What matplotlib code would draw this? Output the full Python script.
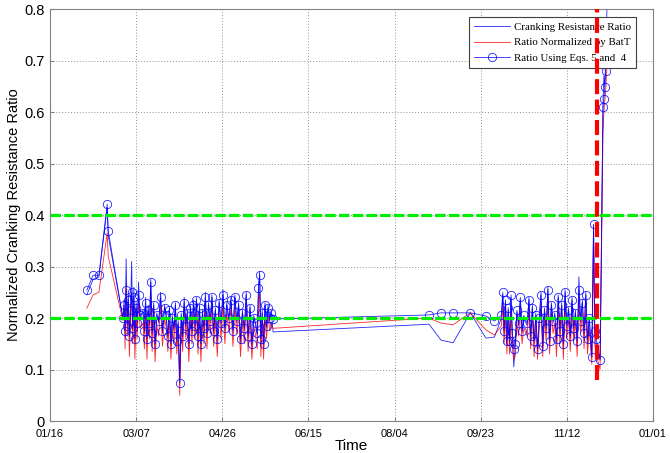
import datetime as dt
import numpy as np
import matplotlib
matplotlib.use("Agg")
from matplotlib import pyplot as plt
import matplotlib.dates as mdates

# day offsets from 01/16 and the three ratio series
days = [21.4, 25.0, 28.4, 33.2, 33.8,
        42.3, 43.0, 43.6, 44.2, 44.9, 45.5, 46.1, 46.8, 47.4, 48.0, 48.7, 49.3, 50.0, 50.6, 51.4, 52.3,
        54.0, 54.8, 55.5, 56.3, 57.0, 57.8, 58.5, 59.3, 60.2, 61.0, 62.0, 63.1, 64.2, 65.3, 66.5,
        67.5, 68.4, 69.3, 70.2, 71.0, 71.9, 72.8, 73.6, 74.4, 75.3, 76.2, 77.0, 77.9, 78.8, 79.7, 80.6, 81.5, 82.4, 83.3,
        84.2, 85.0, 85.9, 86.8, 87.6, 88.5, 89.4, 90.2, 91.1, 92.0, 93.0, 94.0, 95.0, 96.0, 97.1, 98.2, 99.3, 100.4, 101.5, 102.6, 103.8, 105.0,
        106.2, 107.3, 108.4, 109.5, 110.6, 111.7, 112.8, 113.9, 115.0, 116.1, 117.2, 118.3, 119.4,
        120.3, 121.0, 121.7, 122.4, 123.2, 124.0, 124.8, 125.7, 126.6, 127.5, 128.4, 129.5,
        220.0, 227.0, 234.0, 244.0, 253.0, 258.0,
        262.0, 262.8, 263.6, 264.4, 265.2, 266.0, 266.8, 267.6, 268.4, 269.2, 270.0, 271.0, 272.0, 273.0, 274.0, 275.0,
        277.0, 278.0, 279.0, 280.0, 281.0, 282.0, 283.0, 284.0, 285.0, 286.0, 287.0, 288.0, 289.0, 290.0, 291.0, 292.0,
        293.0, 294.0, 295.0, 296.0, 297.0, 298.0, 299.0, 300.0, 301.0, 302.0, 303.0, 304.0, 305.0, 306.0, 307.0, 308.0, 309.0, 310.0, 311.0, 312.0, 313.0,
        314.5, 315.5, 316.2, 317.0, 319.3, 321.0, 321.5, 322.0, 322.5, 323.5]

crr = [0.245, 0.275, 0.280, 0.415, 0.360,
       0.200, 0.235, 0.170, 0.315, 0.190, 0.245, 0.160, 0.225, 0.310, 0.175, 0.260, 0.150, 0.230, 0.185, 0.270, 0.200,
       0.215, 0.170, 0.240, 0.150, 0.225, 0.185, 0.275, 0.165, 0.230, 0.140, 0.210, 0.190, 0.250, 0.170, 0.225,
       0.200, 0.160, 0.220, 0.145, 0.205, 0.175, 0.230, 0.150, 0.195, 0.080, 0.210, 0.160, 0.240, 0.180, 0.215, 0.140, 0.225, 0.170, 0.235,
       0.180, 0.240, 0.155, 0.225, 0.140, 0.215, 0.175, 0.250, 0.165, 0.230, 0.190, 0.245, 0.170, 0.220, 0.150, 0.235, 0.185, 0.255, 0.175, 0.230, 0.195, 0.240,
       0.170, 0.245, 0.190, 0.230, 0.150, 0.215, 0.175, 0.250, 0.160, 0.225, 0.140, 0.205, 0.185,
       0.165, 0.255, 0.290, 0.150, 0.215, 0.140, 0.230, 0.180, 0.225, 0.195, 0.215, 0.173,
       0.188, 0.157, 0.152, 0.210, 0.161, 0.163,
       0.200, 0.245, 0.170, 0.230, 0.150, 0.215, 0.150, 0.240, 0.165, 0.105, 0.145, 0.210, 0.185, 0.235, 0.170, 0.200,
       0.185, 0.240, 0.160, 0.225, 0.150, 0.210, 0.135, 0.200, 0.250, 0.140, 0.220, 0.175, 0.260, 0.150, 0.230, 0.190,
       0.210, 0.150, 0.245, 0.170, 0.230, 0.140, 0.255, 0.180, 0.220, 0.160, 0.240, 0.175, 0.215, 0.145, 0.280, 0.190, 0.235, 0.165, 0.250, 0.150, 0.200,
       0.124, 0.380, 0.170, 0.150, 0.120, 0.620, 0.670, 0.650, 0.700, 0.830]

crr_bat = [0.219, 0.245, 0.250, 0.365, 0.320,
           0.195, 0.215, 0.140, 0.260, 0.165, 0.220, 0.125, 0.200, 0.250, 0.150, 0.225, 0.120, 0.205, 0.160, 0.235, 0.180,
           0.190, 0.140, 0.215, 0.120, 0.200, 0.160, 0.240, 0.135, 0.205, 0.115, 0.185, 0.165, 0.225, 0.145, 0.200,
           0.180, 0.135, 0.200, 0.120, 0.185, 0.150, 0.210, 0.130, 0.175, 0.050, 0.190, 0.135, 0.220, 0.160, 0.195, 0.115, 0.205, 0.150, 0.215,
           0.160, 0.215, 0.130, 0.200, 0.115, 0.195, 0.150, 0.225, 0.140, 0.205, 0.170, 0.220, 0.145, 0.200, 0.125, 0.210, 0.160, 0.230, 0.150, 0.210, 0.175, 0.220,
           0.145, 0.220, 0.170, 0.210, 0.125, 0.195, 0.150, 0.225, 0.135, 0.200, 0.120, 0.185, 0.165,
           0.140, 0.230, 0.250, 0.125, 0.195, 0.120, 0.205, 0.160, 0.205, 0.175, 0.190, 0.180,
           0.200, 0.190, 0.187, 0.210, 0.177, 0.167,
           0.185, 0.225, 0.150, 0.210, 0.130, 0.195, 0.130, 0.220, 0.145, 0.120, 0.125, 0.190, 0.165, 0.215, 0.150, 0.180,
           0.165, 0.220, 0.140, 0.205, 0.125, 0.190, 0.120, 0.180, 0.225, 0.125, 0.200, 0.155, 0.235, 0.130, 0.210, 0.170,
           0.190, 0.125, 0.220, 0.150, 0.210, 0.120, 0.225, 0.160, 0.200, 0.135, 0.215, 0.155, 0.195, 0.125, 0.240, 0.170, 0.210, 0.140, 0.225, 0.130, 0.180,
           0.110, 0.350, 0.150, 0.130, 0.100, 0.560, 0.600, 0.620, 0.640, 0.700]

crr_eq = [0.254, 0.283, 0.283, 0.421, 0.369,
          0.200, 0.225, 0.175, 0.255, 0.185, 0.235, 0.165, 0.215, 0.250, 0.180, 0.240, 0.160, 0.220, 0.190, 0.245, 0.205,
          0.210, 0.175, 0.230, 0.160, 0.215, 0.190, 0.270, 0.170, 0.225, 0.150, 0.205, 0.195, 0.240, 0.175, 0.220,
          0.205, 0.165, 0.215, 0.150, 0.200, 0.180, 0.225, 0.155, 0.190, 0.074, 0.205, 0.165, 0.230, 0.185, 0.210, 0.150, 0.220, 0.175, 0.225,
          0.185, 0.235, 0.165, 0.220, 0.150, 0.210, 0.180, 0.240, 0.170, 0.225, 0.195, 0.240, 0.175, 0.215, 0.160, 0.230, 0.190, 0.245, 0.180, 0.225, 0.200, 0.235,
          0.175, 0.240, 0.195, 0.225, 0.160, 0.210, 0.180, 0.245, 0.165, 0.220, 0.150, 0.200, 0.190,
          0.170, 0.258, 0.283, 0.160, 0.210, 0.150, 0.225, 0.185, 0.220, 0.200, 0.210, 0.198,
          0.206, 0.210, 0.210, 0.210, 0.204, 0.194,
          0.205, 0.250, 0.175, 0.235, 0.155, 0.220, 0.155, 0.245, 0.170, 0.140, 0.150, 0.215, 0.190, 0.240, 0.175, 0.205,
          0.190, 0.235, 0.165, 0.220, 0.155, 0.205, 0.140, 0.200, 0.245, 0.145, 0.215, 0.180, 0.255, 0.155, 0.225, 0.195,
          0.205, 0.160, 0.240, 0.175, 0.225, 0.150, 0.250, 0.185, 0.215, 0.165, 0.235, 0.180, 0.210, 0.155, 0.255, 0.195, 0.230, 0.170, 0.245, 0.160, 0.200,
          0.124, 0.382, 0.175, 0.160, 0.118, 0.610, 0.625, 0.648, 0.680, 0.740]

start = dt.datetime(2013, 1, 16)
tick_step = 50          # days between x ticks
n_ticks = 8
thresholds = [0.2, 0.4]
cutoff_day = 317.5
cutoff_low = 0.08
ytick_vals = [0, 0.1, 0.2, 0.3, 0.4, 0.5, 0.6, 0.7, 0.8]
ytick_labels = ['0', '0.1', '0.2', '0.3', '0.4', '0.5', '0.6', '0.7', '0.8']

plt.rcParams['font.family'] = ['Liberation Sans', 'DejaVu Sans']

t0 = mdates.date2num(start)
x = t0 + np.array(days)

fig = plt.figure(figsize=(6.7, 4.53), dpi=100)
ax = fig.add_axes([0.0746, 0.0706, 0.9, 0.9094])

ax.plot(x, crr, color='#0000ff', lw=0.6, alpha=0.85, label='Cranking Resistance Ratio')
ax.plot(x, crr_bat, color='#ff0000', lw=0.6, alpha=0.85, label='Ratio Normalized by BatT')
ax.plot(x, crr_eq, color='#0000ff', lw=0.6, marker='o', ms=6, mfc='none', mew=0.6, alpha=0.85,
        label='Ratio Using Eqs. 5 and  4')

for th in thresholds:
    ax.axhline(th, color='#00ee00', lw=2.3, dashes=(3.3, 1.0), zorder=5)

ax.axvline(t0 + cutoff_day, ymin=cutoff_low / 0.8, ymax=1.0, color='#ff0000', lw=3.0,
           dashes=(3.6, 1.3), zorder=6)

ax.set_xlim(t0, t0 + tick_step * (n_ticks - 1))
ax.set_ylim(0, 0.8)
ax.set_xticks([t0 + tick_step * k for k in range(n_ticks)])
ax.xaxis.set_major_formatter(mdates.DateFormatter('%m/%d'))
ax.set_yticks(ytick_vals)
ax.set_yticklabels(ytick_labels)
ax.tick_params(axis='y', labelsize=10.5, direction='in', length=3, color='#808080', pad=4)
ax.tick_params(axis='x', labelsize=8, direction='in', length=3, color='#808080', pad=6)
for lab in ax.get_xticklabels():
    lab.set_family(['Liberation Sans Narrow', 'Liberation Sans'])
ax.grid(True, color='#909090', ls=(0, (1, 2)), lw=0.7)
for sp in ax.spines.values():
    sp.set_color('#808080')

ax.set_xlabel('Time', fontsize=11, labelpad=0)
ax.set_ylabel('Normalized Cranking Resistance Ratio', fontsize=10.5, labelpad=2)

leg = ax.legend(loc='upper right', bbox_to_anchor=(0.98, 0.993), fancybox=False,
                edgecolor='#404040', framealpha=1, handlelength=3.4,
                prop={'family': 'Liberation Serif', 'size': 7.8},
                borderpad=0.45, labelspacing=0.55, handletextpad=0.3)
leg.get_frame().set_linewidth(0.8)

fig.savefig('out.png', dpi=100)
